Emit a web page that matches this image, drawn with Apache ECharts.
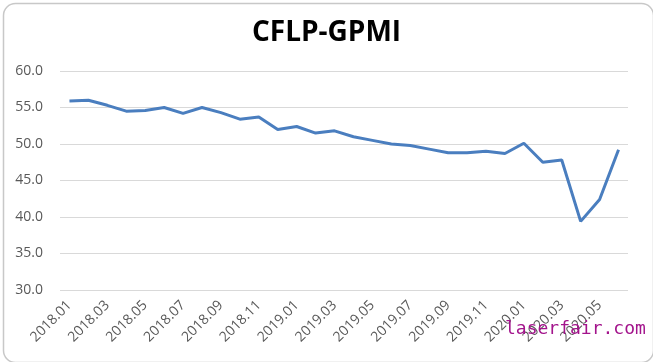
<!DOCTYPE html>
<html>
<head>
<meta charset="utf-8">
<script src="https://cdn.jsdelivr.net/npm/echarts@6/dist/echarts.min.js"></script>
<style>
html,body{margin:0;padding:0;background:#fff;}
#c{width:653px;height:362px;}
</style>
</head>
<body>
<div id="c"></div>
<script>
const categories = ["2018.01","2018.02","2018.03","2018.04","2018.05","2018.06","2018.07","2018.08","2018.09","2018.10","2018.11","2018.12",
  "2019.01","2019.02","2019.03","2019.04","2019.05","2019.06","2019.07","2019.08","2019.09","2019.10","2019.11","2019.12",
  "2020.01","2020.02","2020.03","2020.04","2020.05","2020.06"];
const gpmi = [55.9,56.0,55.3,54.5,54.6,55.0,54.2,55.0,54.3,53.4,53.7,52.0,
  52.4,51.5,51.8,51.0,50.5,50.0,49.8,49.3,48.8,48.8,49.0,48.7,
  50.1,47.5,47.8,39.4,42.4,49.2];
const yTicks = {min:30, max:60, interval:5};

const chart = echarts.init(document.getElementById('c'));
chart.setOption({
  animation:false,
  backgroundColor:'#fff',
  title:{text:'CFLP-GPMI', left:'center', top:14,
    textStyle:{fontFamily:'Open Sans', fontWeight:'bold', fontSize:28, color:'#000'}},
  grid:{left:60, right:25, top:71, bottom:72},
  xAxis:{type:'category', data:categories, boundaryGap:true,
    axisLine:{show:false}, axisTick:{show:false},
    axisLabel:{interval:1, rotate:45, color:'#595959', fontSize:14, fontFamily:'Open Sans', margin:13}},
  yAxis:{type:'value', min:yTicks.min, max:yTicks.max, interval:yTicks.interval,
    axisLine:{show:false}, axisTick:{show:false},
    splitLine:{lineStyle:{color:'#d9d9d9', width:1}},
    axisLabel:{formatter:v=>v.toFixed(1), color:'#595959', fontSize:14, fontFamily:'Open Sans', margin:17}},
  series:[{type:'line', data:gpmi, symbol:'none', lineStyle:{color:'#4a7ebf', width:3}}],
  graphic:[
    {type:'rect', left:1, top:1, shape:{width:650, height:359, r:12}, silent:true,
      style:{fill:'none', stroke:'#c8c8c8', lineWidth:1.5}},
    {type:'text', left:505, top:320, silent:true, z:100,
      style:{text:'laserfair.com', fill:'#a3148c', fontFamily:'DejaVu Sans Mono', fontSize:18}}
  ]
});
</script>
</body>
</html>
